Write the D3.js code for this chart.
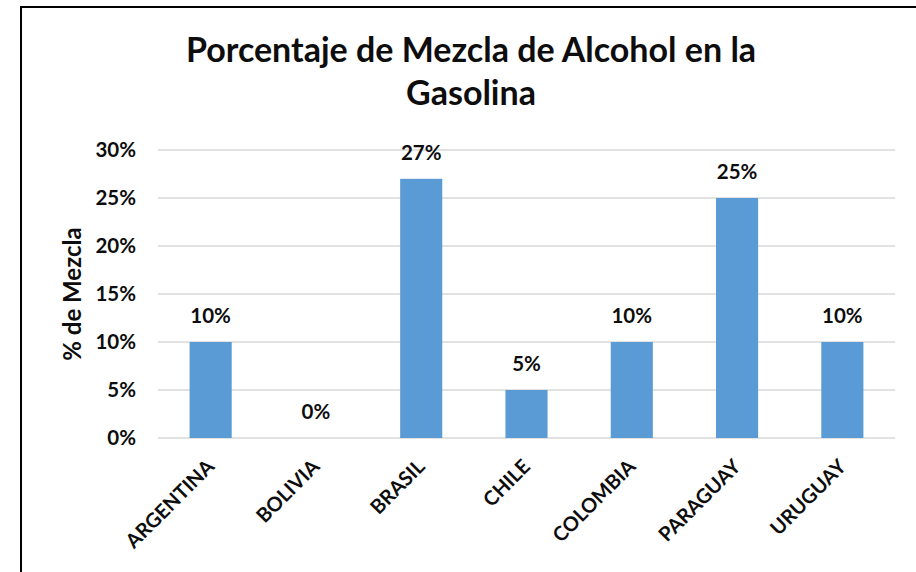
<!DOCTYPE html>
<html>
<head>
<meta charset="utf-8">
<script src="https://cdn.jsdelivr.net/npm/d3@7"></script>
<style>
  body { margin: 0; background: #fff; }
  svg { display: block; font-family: Lato, "Open Sans", sans-serif; font-weight: bold; }
</style>
</head>
<body>
<svg id="chart" width="916" height="572"></svg>
<script>
var countries = ['ARGENTINA', 'BOLIVIA', 'BRASIL', 'CHILE', 'COLOMBIA', 'PARAGUAY', 'URUGUAY'],
    mezcla = [10, 0, 27, 5, 10, 25, 10],
    yTicks = [0, 5, 10, 15, 20, 25, 30],
    titleLines = ['Porcentaje de Mezcla de Alcohol en la', 'Gasolina'],
    yTitle = '% de Mezcla';

var svg = d3.select('#chart'),
    margin = {left: 158, right: 21, top: 150, bottom: 134},
    width = +svg.attr('width'),
    height = +svg.attr('height'),
    data = countries.map(function(c, i) { return {name: c, value: mezcla[i]}; });

// outer frame
svg.append('rect')
   .attr('x', 21).attr('y', 7)
   .attr('width', 920).attr('height', 600)
   .attr('fill', 'none')
   .attr('stroke', '#000')
   .attr('stroke-width', 2);

var x = d3.scaleBand()
          .domain(countries)
          .range([margin.left, width - margin.right])
          .paddingInner(0.6)
          .paddingOuter(0.3);

var y = d3.scaleLinear()
          .domain([0, 30])
          .range([height - margin.bottom, margin.top]);

// gridlines
svg.append('g')
   .selectAll('line')
   .data(yTicks)
   .enter().append('line')
     .attr('x1', margin.left)
     .attr('x2', width - margin.right)
     .attr('y1', function(d) { return y(d); })
     .attr('y2', function(d) { return y(d); })
     .attr('stroke', '#d9d9d9')
     .attr('stroke-width', 1.5);

// y tick labels
svg.append('g')
   .selectAll('text')
   .data(yTicks)
   .enter().append('text')
     .attr('x', 136)
     .attr('y', function(d) { return y(d); })
     .attr('dy', '0.36em')
     .attr('text-anchor', 'end')
     .attr('font-size', 20.5)
     .attr('fill', '#0d0d0d')
     .text(function(d) { return d + '%'; });

// bars
svg.append('g')
   .selectAll('rect')
   .data(data)
   .enter().append('rect')
     .attr('x', function(d) { return x(d.name); })
     .attr('y', function(d) { return y(d.value); })
     .attr('width', x.bandwidth())
     .attr('height', function(d) { return y(0) - y(d.value); })
     .attr('fill', '#5b9bd5');

// value labels
svg.append('g')
   .selectAll('text')
   .data(data)
   .enter().append('text')
     .attr('x', function(d) { return x(d.name) + x.bandwidth() / 2; })
     .attr('y', function(d) { return y(d.value) - 19; })
     .attr('text-anchor', 'middle')
     .attr('font-size', 20.5)
     .attr('fill', '#0d0d0d')
     .text(function(d) { return d.value + '%'; });

// category labels
svg.append('g')
   .selectAll('text')
   .data(countries)
   .enter().append('text')
     .attr('transform', function(d) {
       return 'translate(' + (x(d) + x.bandwidth() / 2) + ',' + (y(0) + 25) + ') rotate(-45)';
     })
     .attr('text-anchor', 'end')
     .attr('dy', '0.35em')
     .attr('font-size', 20)
     .attr('fill', '#0d0d0d')
     .text(function(d) { return d; });

// title
svg.append('g')
   .selectAll('text')
   .data(titleLines)
   .enter().append('text')
     .attr('x', 471)
     .attr('y', function(d, i) { return 62 + i * 43; })
     .attr('text-anchor', 'middle')
     .attr('font-size', 34)
     .attr('fill', '#0d0d0d')
     .text(function(d) { return d; });

// y axis title
svg.append('text')
   .attr('transform', 'translate(81,' + (y(15)) + ') rotate(-90)')
   .attr('text-anchor', 'middle')
   .attr('font-size', 24)
   .attr('fill', '#0d0d0d')
   .text(yTitle);
</script>
</body>
</html>
